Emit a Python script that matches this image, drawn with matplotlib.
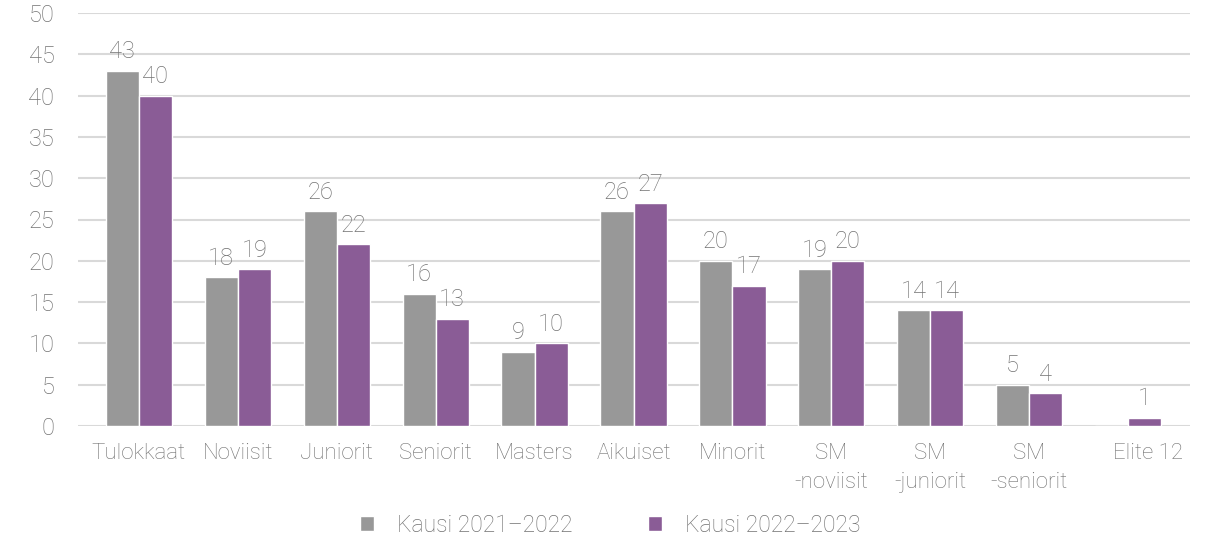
import numpy as np
import matplotlib.pyplot as plt

categories = ['Tulokkaat', 'Noviisit', 'Juniorit', 'Seniorit', 'Masters', 'Aikuiset',
              'Minorit', 'SM\n-noviisit', 'SM\n-juniorit', 'SM\n-seniorit', 'Elite 12']
kausi_2122 = [43, 18, 26, 16, 9, 26, 20, 19, 14, 5, 0]
kausi_2223 = [40, 19, 22, 13, 10, 27, 17, 20, 14, 4, 1]

grey = '#989898'
purple = '#8a5c96'
txt = '#727272'

plt.rcParams['font.family'] = ['Roboto', 'DejaVu Sans']
fw = 'light'

fig = plt.figure(figsize=(12.2, 5.42), dpi=100)
ax = fig.add_axes([78/1220, 1 - 426/542, (1190-78)/1220, (426-13)/542])

x = np.arange(len(categories))
w = 0.335
b1 = ax.bar(x - w/2, kausi_2122, w, color=grey, edgecolor='white', linewidth=1, label='Kausi 2021–2022', zorder=3)
b2 = ax.bar(x + w/2, kausi_2223, w, color=purple, edgecolor='white', linewidth=1, label='Kausi 2022–2023', zorder=3)

for rect, v in zip(b1, kausi_2122):
    if v > 0:
        ax.text(rect.get_x() + rect.get_width()/2, v + 0.9, str(v), ha='center', va='bottom',
                fontsize=17, color=txt, fontweight=fw)
for rect, v in zip(b2, kausi_2223):
    ax.text(rect.get_x() + rect.get_width()/2, v + 0.9, str(v), ha='center', va='bottom',
            fontsize=17, color=txt, fontweight=fw)

# last label sits a bit right of its group, as in the original
tick_pos = x.astype(float)
tick_pos[-1] += 0.2

ax.set_ylim(0, 50)
ax.set_yticks(range(0, 51, 5))
ax.set_xlim(-0.616, 10.626)
ax.set_xticks(tick_pos)
ax.set_xticklabels(categories, fontsize=16, color=txt, fontweight=fw, linespacing=1.55)
for lbl in ax.get_yticklabels():
    lbl.set_fontsize(17)
    lbl.set_color(txt)
    lbl.set_fontweight(fw)
ax.tick_params(axis='both', length=0)
ax.tick_params(axis='y', pad=17)
ax.tick_params(axis='x', pad=12)
ax.grid(axis='y', color='#d9d9d9', linewidth=1.5, zorder=0)
for s in ax.spines.values():
    s.set_visible(False)

leg = fig.legend(handles=[b1, b2], loc='center', bbox_to_anchor=(0.5, 1 - 525/542), ncol=2,
                 frameon=False, handlelength=0.6, handleheight=0.6,
                 columnspacing=3.3, handletextpad=1.0, labelcolor=txt,
                 prop={'family': ['Roboto', 'DejaVu Sans'], 'weight': fw, 'size': 16.5})

fig.savefig('out.png', dpi=100)
